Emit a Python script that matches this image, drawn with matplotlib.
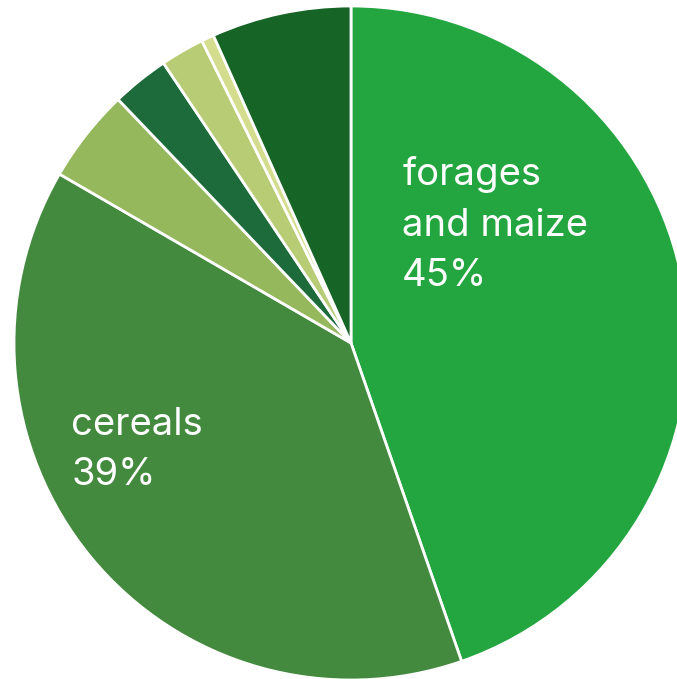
import matplotlib.pyplot as plt

# Share of land use by crop group
categories = ["forages and maize", "cereals", "oilseeds", "protein crops",
              "vegetables", "other", "permanent crops"]
shares = [44.7, 38.7, 4.5, 2.75, 2.1, 0.6, 6.7]
colors = ["#23a63f", "#438a3f", "#95b85c", "#1d6b3a", "#b7cc75", "#d4dd8e", "#176427"]

label_text = {
    "forages and maize": "forages\nand maize\n45%",
    "cereals": "cereals\n39%",
}

fig = plt.figure(figsize=(6.77, 6.79), dpi=100)
ax = fig.add_axes([0, 0, 1, 1])

ax.pie(shares, colors=colors, startangle=90, counterclock=False, radius=1.0,
       wedgeprops=dict(edgecolor="white", linewidth=2.0))

# pixel-matched view: centre at (351, 343), radius 337 px
ax.set_xlim(-351 / 337, (677 - 351) / 337)
ax.set_ylim(-(679 - 343) / 337, 343 / 337)
ax.set_aspect("equal")
ax.axis("off")

ax.text(0.152, 0.350, label_text["forages and maize"], color="white",
        fontsize=27.5, family="Inter", ha="left", va="center", linespacing=1.53)
ax.text(-0.83, -0.318, label_text["cereals"], color="white",
        fontsize=27.5, family="Inter", ha="left", va="center", linespacing=1.5)

fig.savefig("out.png", dpi=100)
